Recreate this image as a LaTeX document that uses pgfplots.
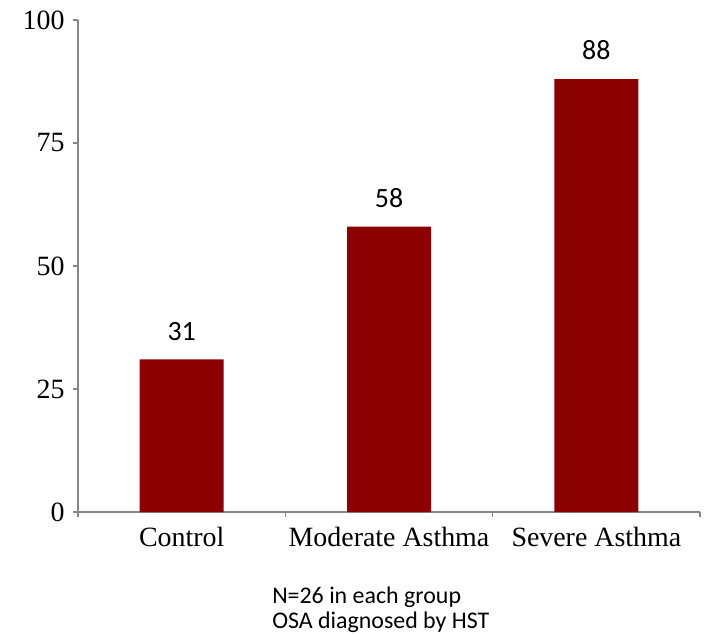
\documentclass[border=0pt]{standalone}
\usepackage{fontspec}
\setmainfont{Liberation Serif}
\newfontfamily\calfont{Carlito}
\usepackage{pgfplots}
\pgfplotsset{compat=1.18}
\definecolor{barred}{RGB}{139,0,0}
\definecolor{axisgray}{RGB}{135,135,135}

\begin{document}
\begin{tikzpicture}
\begin{axis}[
  scale only axis,
  width=622bp, height=492bp,
  xmin=0, xmax=3,
  ymin=0, ymax=100,
  axis lines*=left,
  axis line style={axisgray, line width=1.2bp},
  tick style={axisgray, line width=1.2bp},
  major tick length=5bp,
  tick align=outside,
  ytick={0,25,50,75,100},
  xtick={0,1,2,3},
  xticklabels={Control,Moderate Asthma,Severe Asthma},
  x tick label as interval=true,
  /pgf/number format/assume math mode=true,
  ticklabel style={font=\fontsize{28}{30}\selectfont, text=black},
  yticklabel style={xshift=-5bp},
  xticklabel style={yshift=-7bp},
  clip=false,
]
\addplot[
  ybar, bar width=84bp, fill=barred, draw=none,
  nodes near coords,
  nodes near coords style={font=\calfont\fontsize{28}{28}\selectfont, text=black,
    anchor=south, inner sep=0pt, yshift=19bp},
] coordinates {(0.5,31) (1.5,58) (2.5,88)};

\node[anchor=north west, align=left, inner sep=0pt,
      font=\calfont\fontsize{24}{25}\selectfont]
  at (rel axis cs:0.312,0) [yshift=-75bp] {N=26 in each group\\OSA diagnosed by HST};
\end{axis}
\path ([shift={(-78bp,-123bp)}]current axis.south west)
  rectangle ([shift={(4bp,20bp)}]current axis.north east);
\end{tikzpicture}
\end{document}
